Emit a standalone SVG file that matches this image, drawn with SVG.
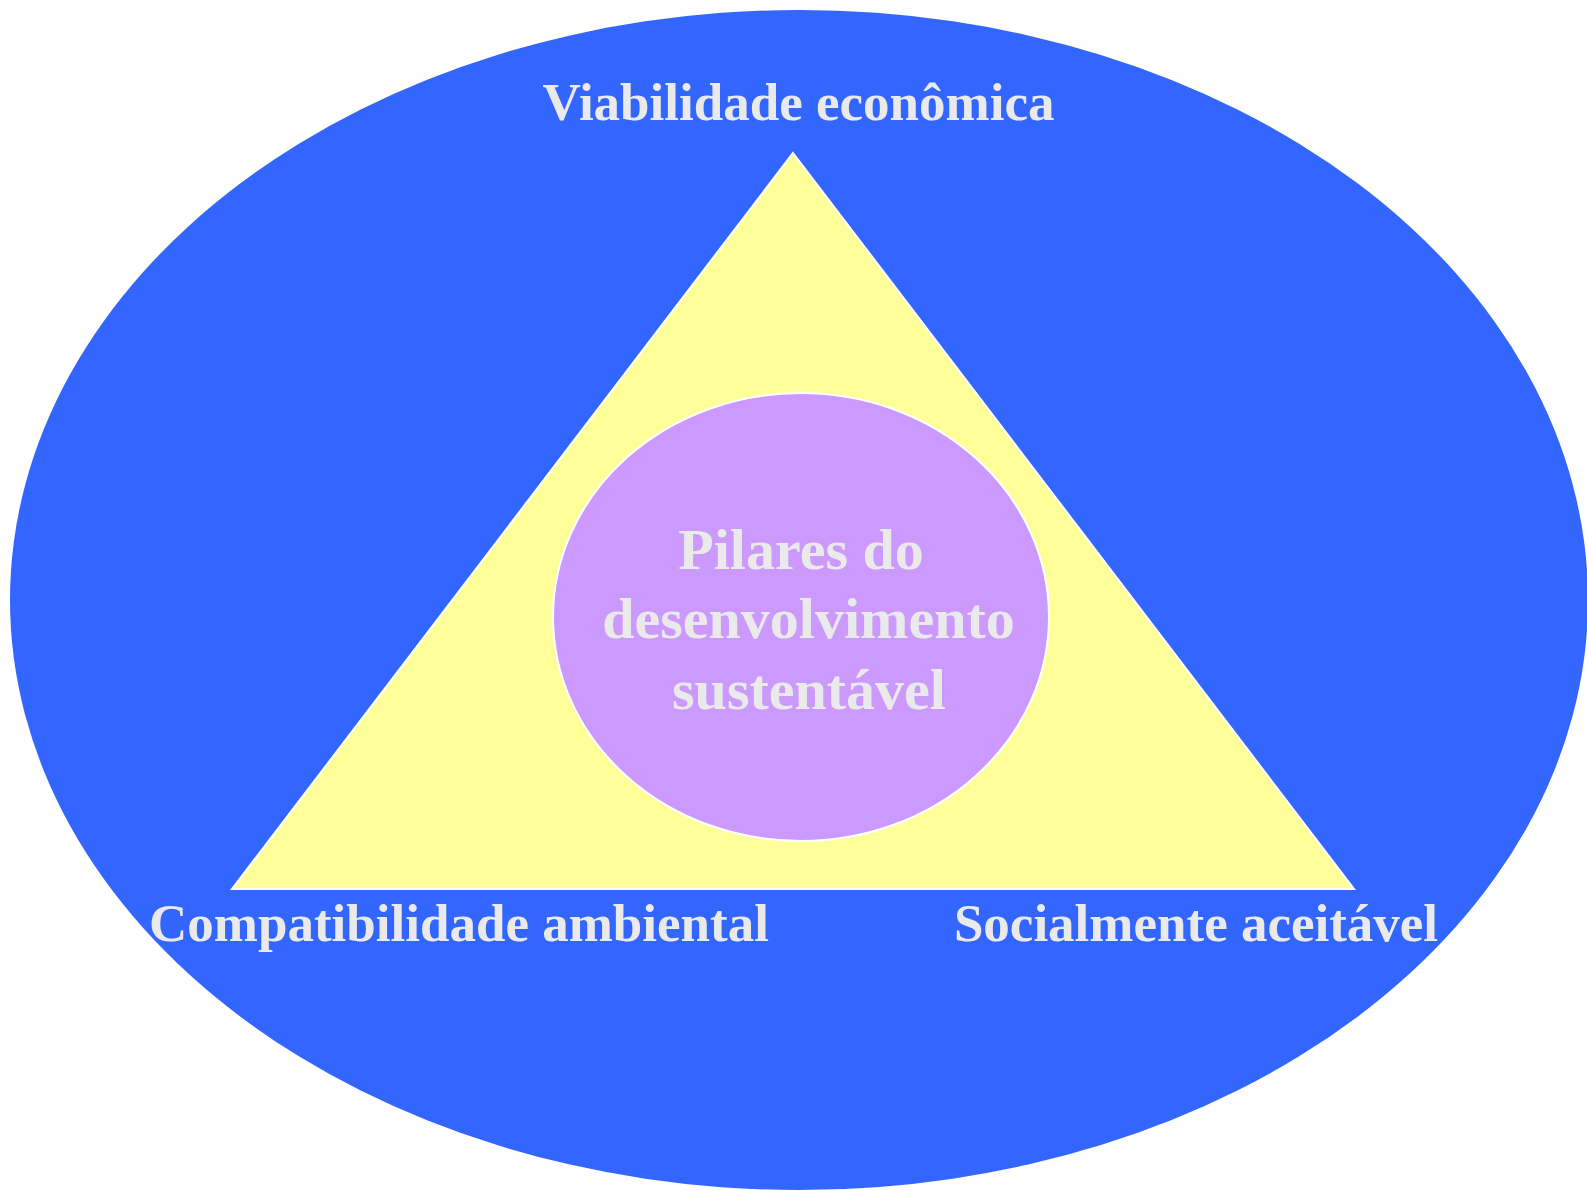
<svg xmlns="http://www.w3.org/2000/svg" width="1587" height="1190" viewBox="0 0 1587 1190">
<style>
.lbl{font-family:"Liberation Serif","Times New Roman",serif;font-weight:bold;fill:#EAEAEA;text-anchor:middle}
.outer{font-size:53px}
.inner{font-size:58px}
</style>
<rect width="1587" height="1190" fill="#FFFFFF"/>
<g id="outer-ellipse">
<ellipse cx="799" cy="600" rx="789" ry="590" fill="#3366FF"/>
</g>
<g id="triangle">
<polygon points="793,153 1354,889 232,889" fill="#FFFF99" stroke="#FFFFFF" stroke-width="2" stroke-linejoin="miter"/>
</g>
<g id="center">
<ellipse cx="801" cy="617" rx="248" ry="224" fill="#CC99FF" stroke="#FFFFFF" stroke-width="2"/>
<text class="lbl inner" x="801" y="569">Pilares do</text>
<text class="lbl inner" x="808.5" y="638">desenvolvimento</text>
<text class="lbl inner" x="809" y="709">sustentável</text>
</g>
<g id="label-top">
<text class="lbl outer" x="798.5" y="120">Viabilidade econômica</text>
</g>
<g id="label-left">
<text class="lbl outer" x="459" y="941">Compatibilidade ambiental</text>
</g>
<g id="label-right">
<text class="lbl outer" x="1196" y="941">Socialmente aceitável</text>
</g>
<g id="connectors"/>
</svg>
